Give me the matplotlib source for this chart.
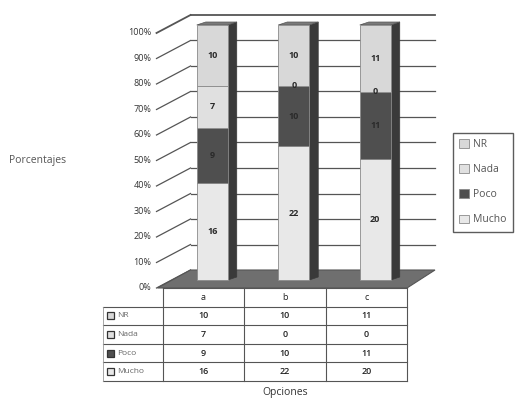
import numpy as np
import matplotlib
matplotlib.use('Agg')
import matplotlib.pyplot as plt
from matplotlib.patches import Polygon, Rectangle

plt.rcParams['font.family'] = ['Open Sans', 'DejaVu Sans']

opciones = ['a', 'b', 'c']
# stacking order, bottom to top
series = ['Mucho', 'Poco', 'Nada', 'NR']
mucho = [16, 22, 20]
poco = [9, 10, 11]
nada = [7, 0, 0]
nr = [10, 10, 11]
yticks = [0, 10, 20, 30, 40, 50, 60, 70, 80, 90, 100]

values = {'Mucho': mucho, 'Poco': poco, 'Nada': nada, 'NR': nr}
colors = {'Mucho': '#e8e8e8', 'Poco': '#4f4f4f', 'Nada': '#e0e0e0', 'NR': '#d8d8d8'}

W, H = 515, 400
fig = plt.figure(figsize=(W / 100, H / 100), dpi=100)

# front plane of the 3d box: x in category units, y in percent
left, right, y0, y100 = 162.5, 407.0, 288.0, 33.0
ax = fig.add_axes([left / W, (H - y0) / H, (right - left) / W, (y0 - y100) / H])
ax.set_xlim(-0.5, 2.5)
ax.set_ylim(0, 100)
ax.axis('off')

ux = (right - left) / 3.0
uy = (y0 - y100) / 100.0


def px(dx, dy=0):
    '''pixel offset -> data offset'''
    return dx / ux, dy / uy


wall_dx, wall_dy = px(28, 18)
bar_dx, bar_dy = px(9, 8)
side_dx, side_dy = px(9, 3)
bar_w = 31 / ux
grid_c = '#555555'

# back wall and left wall gridlines
for t in yticks:
    lw = 1.3 if t == 100 else 0.9
    if t > 0:
        ax.plot([-0.5 + wall_dx, 2.5 + wall_dx], [t + wall_dy] * 2, color=grid_c, lw=lw,
                clip_on=False, zorder=1)
    ax.plot([-0.5 - px(6)[0], -0.5 + wall_dx], [t, t + wall_dy], color=grid_c, lw=lw,
            clip_on=False, zorder=1)
    ax.text(-0.5 - px(11)[0], t, '{}%'.format(t), ha='right', va='center',
            fontsize=6.5, color='#333333')

# floor
floor = Polygon([(-0.5 - px(5)[0], 0), (2.5, 0), (2.5 + wall_dx, wall_dy),
                 (-0.5 + wall_dx, wall_dy)], closed=True, facecolor='#6f6f6f',
                edgecolor='#555555', lw=0.8, clip_on=False, zorder=2)
ax.add_patch(floor)

totals = np.sum([values[s] for s in series], axis=0)
x = np.arange(len(opciones)) + bar_dx
top = 100 + bar_dy

# depth faces of the columns
for xi in x:
    xl, xr = xi - bar_w / 2, xi + bar_w / 2
    side = Polygon([(xr, bar_dy), (xr + side_dx, bar_dy + side_dy),
                    (xr + side_dx, top + side_dy), (xr, top)], closed=True,
                   facecolor='#3a3a3a', edgecolor='#3a3a3a', lw=0.5, clip_on=False, zorder=3)
    cap = Polygon([(xl, top), (xl + side_dx, top + side_dy), (xr + side_dx, top + side_dy),
                   (xr, top)], closed=True, facecolor='#7a7a7a', edgecolor='#555555',
                  lw=0.5, clip_on=False, zorder=3)
    ax.add_patch(side)
    ax.add_patch(cap)

bottom = np.zeros(len(opciones)) + bar_dy
handles = {}
for s in series:
    v = np.array(values[s], dtype=float)
    pct = v / totals * 100
    bars = ax.bar(x, pct, bar_w, bottom=bottom, color=colors[s], edgecolor='#8a8a8a',
                  lw=0.6, label=s, clip_on=False, zorder=4)
    handles[s] = bars
    for xi, b, p, val in zip(x, bottom, pct, values[s]):
        ax.text(xi, b + p / 2, str(val), ha='center', va='center', fontsize=6.5,
                fontweight='bold', color='#2a2a2a', zorder=5)
    bottom = bottom + pct

# data table under the chart
tab = fig.add_axes([left / W, (H - 381) / H, (right - left) / W, 93 / H])
tab.set_xlim(-0.5, 2.5)
tab.set_ylim(5, 0)
tab.axis('off')
lab_x = -0.5 - 60 / ux
line_kw = dict(color='#555555', lw=0.8, clip_on=False)

tab.plot([-0.5, 2.5], [0, 0], **line_kw)
for r in range(1, 6):
    tab.plot([lab_x, 2.5], [r, r], **line_kw)
for c in [-0.5, 0.5, 1.5, 2.5]:
    tab.plot([c, c], [0, 5], **line_kw)
tab.plot([lab_x, lab_x], [1, 5], color='#999999', lw=0.6, clip_on=False)

for i, o in enumerate(opciones):
    tab.text(i, 0.5, o, ha='center', va='center', fontsize=6.5, color='#222222')

row_order = ['NR', 'Nada', 'Poco', 'Mucho']
kh = 7 / 18.6
for r, s in enumerate(row_order):
    yc = r + 1.5
    for i, val in enumerate(values[s]):
        tab.text(i, yc, str(val), ha='center', va='center', fontsize=6.5,
                 fontweight='semibold', color='#222222')
    key = Rectangle((lab_x + 4 / ux, yc - kh / 2), 7 / ux, kh, facecolor=colors[s],
                    edgecolor='#333333', lw=0.9, clip_on=False)
    tab.add_patch(key)
    tab.text(lab_x + 15 / ux, yc, s, ha='left', va='center', fontsize=6, color='#666666')

leg = fig.legend([handles[s] for s in row_order], row_order, loc='upper left',
                 bbox_to_anchor=(453 / W, 1 - 133 / H), frameon=True, fancybox=False,
                 edgecolor='#333333', fontsize=7.5, labelspacing=1.35, handlelength=0.9,
                 handleheight=0.9, handletextpad=0.4, borderpad=0.6, borderaxespad=0)
for t in leg.get_texts():
    t.set_color('#555555')

fig.text(9 / W, 1 - 160 / H, 'Porcentajes', ha='left', va='center', fontsize=7.5,
         color='#555555')
fig.text(285 / W, 1 - 393 / H, 'Opciones', ha='center', va='center', fontsize=7.5,
         color='#333333')

fig.savefig('out.png', dpi=100, facecolor='white')
